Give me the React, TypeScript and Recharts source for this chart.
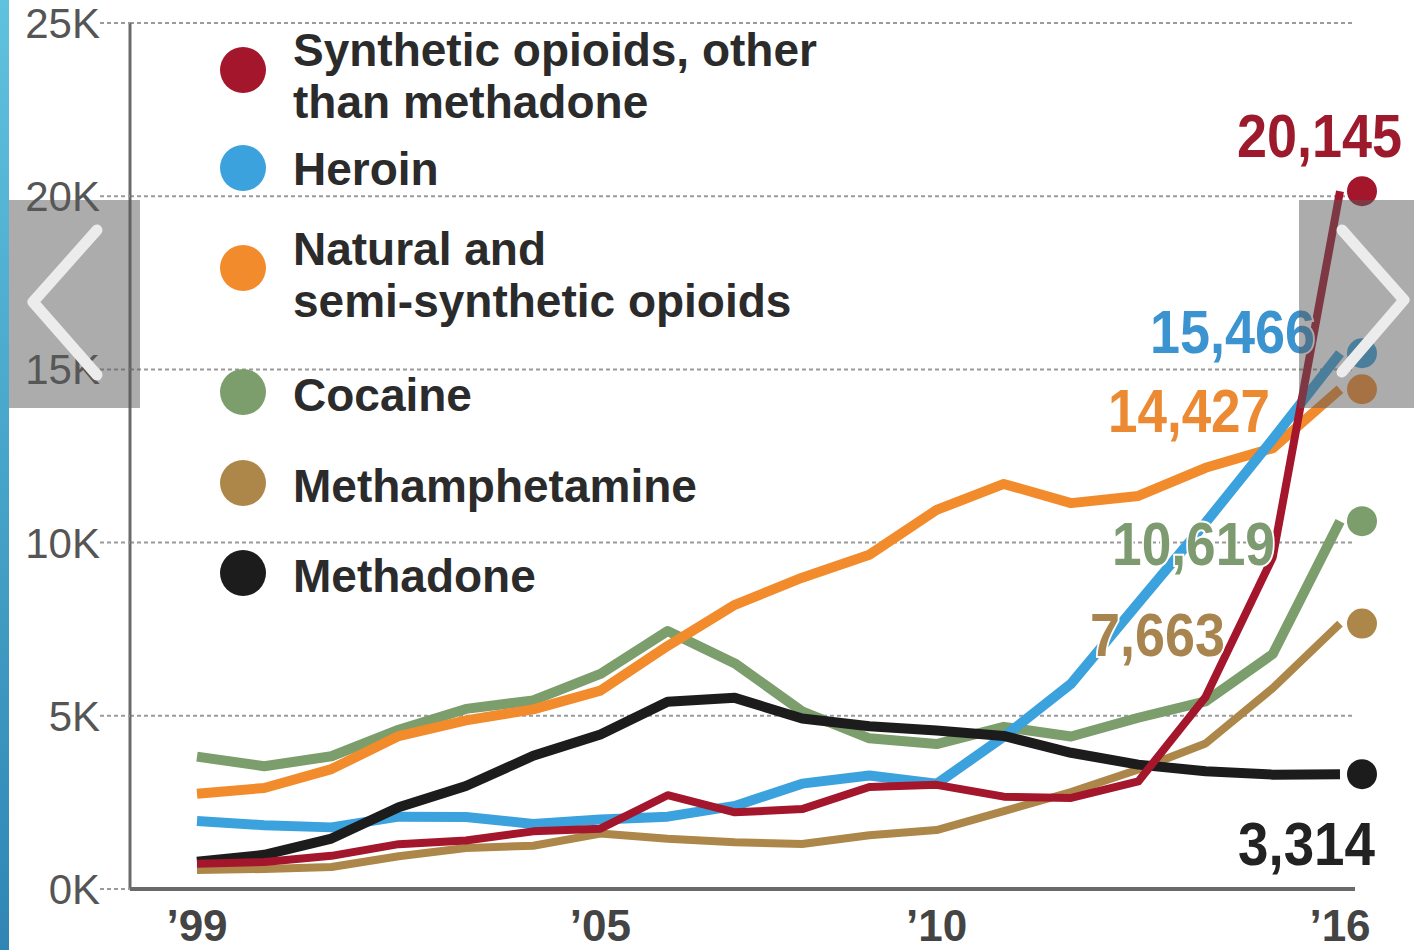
import React from 'react';
import { LineChart, Line, XAxis, YAxis, CartesianGrid } from 'recharts';

// overdose deaths by drug, 1999-2016
const years = [1999, 2000, 2001, 2002, 2003, 2004, 2005, 2006, 2007, 2008, 2009, 2010, 2011, 2012, 2013, 2014, 2015, 2016];
const synthetic = [730, 782, 957, 1295, 1400, 1664, 1742, 2707, 2213, 2306, 2946, 3007, 2666, 2628, 3105, 5544, 9580, 20145];
const heroin = [1960, 1842, 1779, 2089, 2080, 1878, 2009, 2088, 2399, 3041, 3278, 3036, 4397, 5925, 8257, 10574, 12989, 15466];
const natural = [2749, 2917, 3462, 4416, 4867, 5185, 5726, 7017, 8205, 8987, 9650, 10943, 11693, 11140, 11346, 12159, 12727, 14427];
const cocaine = [3822, 3544, 3833, 4599, 5199, 5443, 6208, 7448, 6512, 5129, 4350, 4183, 4681, 4404, 4944, 5415, 6784, 10619];
const meth = [547, 578, 637, 947, 1181, 1250, 1600, 1450, 1350, 1300, 1550, 1700, 2250, 2800, 3450, 4200, 5800, 7663];
const methadone = [784, 986, 1456, 2358, 2972, 3845, 4460, 5406, 5518, 4924, 4696, 4577, 4418, 3932, 3591, 3400, 3301, 3314];

const yTicks = [0, 5000, 10000, 15000, 20000, 25000];
const xTicks = [1999, 2005, 2010, 2016];

type Series = {
  key: string
  lines: string[]
  color: string
  labelColor: string
  width: number
  labelDx: number
  labelDy: number
  labelW: number
}

// legend order (top to bottom)
const series: Series[] = [
  { key: 'synthetic', lines: ['Synthetic opioids, other', 'than methadone'], color: '#a3162c', labelColor: '#9c1a2c', width: 8, labelDx: 62, labelDy: -34, labelW: 165 },
  { key: 'heroin', lines: ['Heroin'], color: '#3ba2dd', labelColor: '#3b93cf', width: 10, labelDx: -25, labelDy: 0, labelW: 165 },
  { key: 'natural', lines: ['Natural and', 'semi-synthetic opioids'], color: '#f28b2c', labelColor: '#ec8a34', width: 10, labelDx: -70, labelDy: 43, labelW: 162 },
  { key: 'cocaine', lines: ['Cocaine'], color: '#7c9d6c', labelColor: '#7d9a70', width: 10, labelDx: -65, labelDy: 44, labelW: 163 },
  { key: 'meth', lines: ['Methamphetamine'], color: '#ad8749', labelColor: '#a8844e', width: 8, labelDx: -115, labelDy: 32, labelW: 135 },
  { key: 'methadone', lines: ['Methadone'], color: '#1c1c1c', labelColor: '#222222', width: 10, labelDx: 35, labelDy: 91, labelW: 137 },
];

const legendTextTop = [24, 143, 223, 369, 460, 550];
const legendDotY = [70, 168, 268, 392, 483, 573];

// draw order, back to front
const drawOrder = ['cocaine', 'meth', 'natural', 'heroin', 'methadone', 'synthetic'];

const values: Record<string, number[]> = { synthetic, heroin, natural, cocaine, meth, methadone };

const data = years.map((year, i) => ({
  year,
  synthetic: synthetic[i],
  heroin: heroin[i],
  natural: natural[i],
  cocaine: cocaine[i],
  meth: meth[i],
  methadone: methadone[i],
}));

const last = years.length - 1;

const fmt = (v: number) => v.toLocaleString('en-US');

const LegendBox = () => (
  <div style={{ position: 'absolute', left: 0, top: 0, width: 850, height: 620, fontFamily: '"Liberation Sans", Arial, sans-serif', pointerEvents: 'none' }}>
    {series.map((s, i) => (
      <React.Fragment key={s.key}>
        <div style={{
          position: 'absolute', left: 220, top: legendDotY[i] - 23, width: 46, height: 46,
          borderRadius: '50%', background: s.color,
        }} />
        <div style={{
          position: 'absolute', left: 293, top: legendTextTop[i], fontSize: 46, lineHeight: '52px',
          fontWeight: 700, color: '#2b2b2b', whiteSpace: 'nowrap',
        }}>
          {s.lines.map((l) => <div key={l}>{l}</div>)}
        </div>
      </React.Fragment>
    ))}
  </div>
);

const makeDot = (s: Series) => (props: any) => {
  const { cx, cy, index } = props;
  if (index !== last) return <g key={`${s.key}-d${index}`} />;
  return (
    <g key={`${s.key}-end`}>
      <circle cx={cx + 22} cy={cy} r={15} fill={s.color} />
      <text
        x={cx + s.labelDx}
        y={cy + s.labelDy}
        textAnchor="end"
        fontFamily='"Liberation Sans Narrow", "Liberation Sans", Arial, sans-serif'
        fontWeight={700}
        fontSize={62}
        fill={s.labelColor}
        stroke="#fff"
        strokeWidth={4}
        paintOrder="stroke"
        textLength={s.labelW}
        lengthAdjust="spacingAndGlyphs"
      >
        {fmt(values[s.key][last])}
      </text>
    </g>
  );
};

const Chevron = ({ points }: { points: string }) => (
  <svg width={1414} height={950} style={{ position: 'absolute', left: 0, top: 0, pointerEvents: 'none' }}>
    <polyline points={points} fill="none" stroke="#ececec" strokeWidth={11} strokeLinecap="round" strokeLinejoin="round" />
  </svg>
);

export default function App() {
  return (
    <div style={{ position: 'absolute', left: 0, top: 0, width: 1414, height: 950, background: '#fff', overflow: 'hidden' }}>
      <LineChart width={1414} height={950} data={data} margin={{ top: 23, right: 59, bottom: 0, left: 0 }}>
        <CartesianGrid vertical={false} stroke="#9a9a9a" strokeDasharray="4 3" strokeWidth={2} />
        <YAxis
          width={130}
          domain={[0, 25000]}
          ticks={yTicks}
          interval={0}
          tickFormatter={(v: number) => `${v / 1000}K`}
          axisLine={{ stroke: '#6a6a6a', strokeWidth: 3 }}
          tickLine={{ stroke: '#9a9a9a', strokeDasharray: '4 3', strokeWidth: 2 }}
          tickSize={30}
          tickMargin={0}
          tick={{ fill: '#555', fontSize: 42, fontFamily: '"Liberation Sans", Arial, sans-serif' }}
        />
        <XAxis
          dataKey="year"
          type="number"
          domain={[1999, 2016]}
          ticks={xTicks}
          interval={0}
          height={61}
          padding={{ left: 67, right: 15 }}
          tickFormatter={(v: number) => `\u2019${String(v).slice(2)}`}
          axisLine={{ stroke: '#6a6a6a', strokeWidth: 4 }}
          tickLine={false}
          tickSize={0}
          tickMargin={21}
          tick={{ fill: '#444', fontSize: 44, fontWeight: 700, fontFamily: '"Liberation Sans", Arial, sans-serif' }}
        />
        {drawOrder.map((k) => {
          const s = series.find((x) => x.key === k)!;
          return (
            <Line
              key={k}
              type="linear"
              dataKey={k}
              stroke={s.color}
              strokeWidth={s.width}
              strokeLinejoin="round"
              dot={makeDot(s)}
              activeDot={false}
              isAnimationActive={false}
            />
          );
        })}
      </LineChart>

      <LegendBox />

      {/* slideshow chrome around the image */}
      <div style={{ position: 'absolute', left: 0, top: 0, width: 9, height: 950, background: 'linear-gradient(#5fc2de, #2f86b4)' }} />
      <div style={{ position: 'absolute', left: 9, top: 200, width: 131, height: 208, background: 'rgba(90,90,90,0.5)' }} />
      <div style={{ position: 'absolute', left: 1299, top: 200, width: 115, height: 208, background: 'rgba(90,90,90,0.5)' }} />
      <Chevron points="97,230 33,302 97,375" />
      <Chevron points="1342,230 1404,300 1342,372" />
    </div>
  );
}
